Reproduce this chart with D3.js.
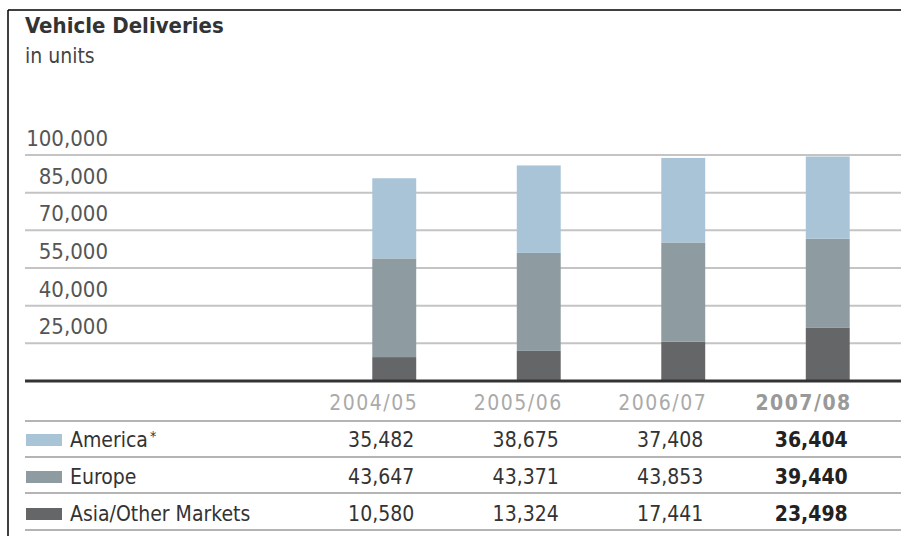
<!DOCTYPE html>
<html>
<head>
<meta charset="utf-8">
<script src="https://cdn.jsdelivr.net/npm/d3@7"></script>
<style>
  html, body { margin: 0; padding: 0; background: #fff; }
  svg { display: block; font-family: "DejaVu Sans Condensed", "DejaVu Sans", sans-serif; font-stretch: condensed; }
</style>
</head>
<body>
<svg id="chart" width="901" height="536"></svg>
<script>
// Fiscal years and deliveries per region (units)
const years = ["2004/05", "2005/06", "2006/07", "2007/08"];
const regions = ["America*", "Europe", "Asia/Other Markets"];
const america = [35482, 38675, 37408, 36404];
const europe = [43647, 43371, 43853, 39440];
const asiaOther = [10580, 13324, 17441, 23498];
const axisTicks = [25000, 40000, 55000, 70000, 85000, 100000];

const colors = { "America*": "#a9c3d7", "Europe": "#8e9ca2", "Asia/Other Markets": "#656668" };
const seriesByRegion = { "America*": america, "Europe": europe, "Asia/Other Markets": asiaOther };

const svg = d3.select("#chart");
const W = 901, H = 536;
const plotLeft = 25, plotRight = 901, plotBase = 381, plotTop = 155;

// Stack order: Asia at the bottom, Europe in the middle, America on top
const rows = years.map((yr, i) => ({
  year: yr,
  "America*": america[i],
  "Europe": europe[i],
  "Asia/Other Markets": asiaOther[i]
}));
const stacked = d3.stack().keys(["Asia/Other Markets", "Europe", "America*"])(rows);

const x = d3.scaleBand().domain(years).range([322, 900]).paddingInner(0.696).paddingOuter(0.348);
const y = d3.scaleLinear().domain([0, 100000]).range([plotBase, plotTop]);
// Gridline positions follow the printed axis labels
const yGrid = d3.scaleLinear().domain([10000, 100000]).range([plotBase, plotTop]);

// Frame
svg.append("line").attr("x1", 8).attr("x2", 8).attr("y1", 10).attr("y2", H)
  .attr("stroke", "#000").attr("stroke-width", 1.5);
svg.append("line").attr("x1", 8).attr("x2", W).attr("y1", 10).attr("y2", 10)
  .attr("stroke", "#000").attr("stroke-width", 1.5);

// Title
svg.append("text").attr("x", 25).attr("y", 33)
  .attr("font-size", 22).attr("font-weight", "bold").attr("fill", "#333")
  .text("Vehicle Deliveries");
svg.append("text").attr("x", 25).attr("y", 63)
  .attr("font-size", 21).attr("fill", "#444")
  .text("in units");

// Gridlines and tick labels
const grid = svg.append("g");
grid.selectAll("line").data(axisTicks).join("line")
  .attr("x1", plotLeft).attr("x2", plotRight)
  .attr("y1", d => yGrid(d)).attr("y2", d => yGrid(d))
  .attr("stroke", "#c4c4c4").attr("stroke-width", 2);
grid.selectAll("text").data(axisTicks).join("text")
  .attr("x", 108).attr("y", d => yGrid(d) - 9)
  .attr("text-anchor", "end")
  .attr("font-size", 22).attr("fill", "#555")
  .text(d => d3.format(",")(d));

// Stacked bars
svg.append("g").selectAll("g").data(stacked).join("g")
  .attr("fill", d => colors[d.key])
  .selectAll("rect").data(d => d).join("rect")
  .attr("x", d => x(d.data.year))
  .attr("width", x.bandwidth())
  .attr("y", d => y(d[1]))
  .attr("height", d => y(d[0]) - y(d[1]));

// Baseline
svg.append("line").attr("x1", plotLeft).attr("x2", plotRight).attr("y1", plotBase).attr("y2", plotBase)
  .attr("stroke", "#333").attr("stroke-width", 3);

// Data table below the chart
const colRight = yr => x(yr) + x.bandwidth();
const last = years[years.length - 1];

svg.append("g").selectAll("text").data(years).join("text")
  .attr("x", d => colRight(d) + 2).attr("y", 410)
  .attr("text-anchor", "end")
  .attr("font-size", 21)
  .attr("letter-spacing", 1.5)
  .attr("font-weight", d => d === last ? "bold" : "normal")
  .attr("fill", d => d === last ? "#999" : "#aaa")
  .text(d => d);

const rowLines = [421, 457, 493, 530];
svg.append("g").selectAll("line").data(rowLines).join("line")
  .attr("x1", plotLeft).attr("x2", plotRight)
  .attr("y1", d => d).attr("y2", d => d)
  .attr("stroke", "#b4b4b4").attr("stroke-width", 2);

const rowBase = [447, 484, 521];
regions.forEach((r, ri) => {
  const g = svg.append("g");
  g.append("rect").attr("x", 26).attr("y", rowBase[ri] - 13)
    .attr("width", 36).attr("height", 12).attr("fill", colors[r]);
  const label = g.append("text").attr("x", 70).attr("y", rowBase[ri])
    .attr("font-size", 21).attr("fill", "#333");
  if (r === "America*") {
    label.append("tspan").text("America");
    label.append("tspan").attr("font-size", 14).attr("dy", -6).attr("dx", 2).text("*");
  } else {
    label.text(r);
  }
  g.selectAll("text.val").data(seriesByRegion[r]).join("text")
    .attr("class", "val")
    .attr("x", (d, i) => colRight(years[i]) - 2).attr("y", rowBase[ri])
    .attr("text-anchor", "end")
    .attr("font-size", 21)
    .attr("font-weight", (d, i) => years[i] === last ? "bold" : "normal")
    .attr("fill", (d, i) => years[i] === last ? "#222" : "#333")
    .text(d => d3.format(",")(d));
});
</script>
</body>
</html>
